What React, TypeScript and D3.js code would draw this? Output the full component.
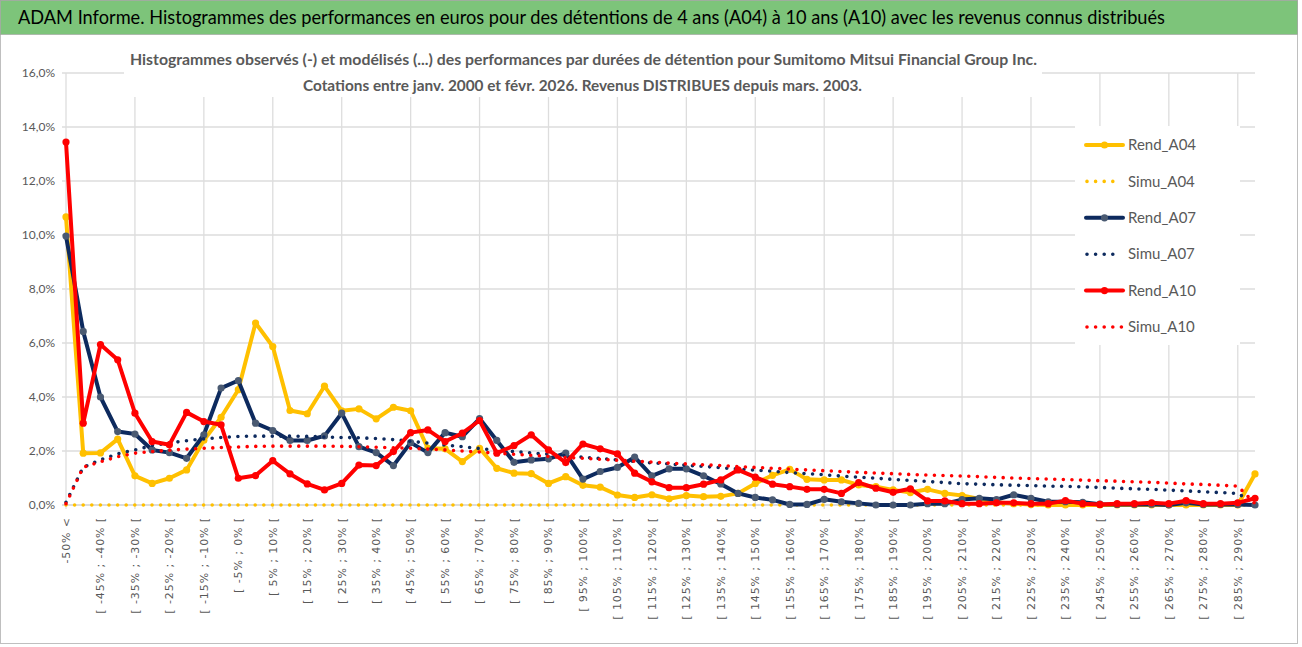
import * as d3 from 'd3'

// Performance bins (5% wide), only every other label is visible on the axis
const categories = [
  '-50% <',
  '[ -50% ; -45% [', '[ -45% ; -40% [', '[ -40% ; -35% [', '[ -35% ; -30% [', '[ -30% ; -25% [',
  '[ -25% ; -20% [', '[ -20% ; -15% [', '[ -15% ; -10% [', '[ -10% ; -5% [', '[ -5% ; 0% [',
  '[ 0% ; 5% [', '[ 5% ; 10% [', '[ 10% ; 15% [', '[ 15% ; 20% [', '[ 20% ; 25% [',
  '[ 25% ; 30% [', '[ 30% ; 35% [', '[ 35% ; 40% [', '[ 40% ; 45% [', '[ 45% ; 50% [',
  '[ 50% ; 55% [', '[ 55% ; 60% [', '[ 60% ; 65% [', '[ 65% ; 70% [', '[ 70% ; 75% [',
  '[ 75% ; 80% [', '[ 80% ; 85% [', '[ 85% ; 90% [', '[ 90% ; 95% [', '[ 95% ; 100% [',
  '[ 100% ; 105% [', '[ 105% ; 110% [', '[ 110% ; 115% [', '[ 115% ; 120% [', '[ 120% ; 125% [',
  '[ 125% ; 130% [', '[ 130% ; 135% [', '[ 135% ; 140% [', '[ 140% ; 145% [', '[ 145% ; 150% [',
  '[ 150% ; 155% [', '[ 155% ; 160% [', '[ 160% ; 165% [', '[ 165% ; 170% [', '[ 170% ; 175% [',
  '[ 175% ; 180% [', '[ 180% ; 185% [', '[ 185% ; 190% [', '[ 190% ; 195% [', '[ 195% ; 200% [',
  '[ 200% ; 205% [', '[ 205% ; 210% [', '[ 210% ; 215% [', '[ 215% ; 220% [', '[ 220% ; 225% [',
  '[ 225% ; 230% [', '[ 230% ; 235% [', '[ 235% ; 240% [', '[ 240% ; 245% [', '[ 245% ; 250% [',
  '[ 250% ; 255% [', '[ 255% ; 260% [', '[ 260% ; 265% [', '[ 265% ; 270% [', '[ 270% ; 275% [',
  '[ 275% ; 280% [', '[ 280% ; 285% [', '[ 285% ; 290% [', '290% >',
]

// values in %
const rendA04 = [
  10.67, 1.92, 1.93, 2.44, 1.08, 0.8, 0.99, 1.3, 2.4, 3.25,
  4.27, 6.74, 5.87, 3.5, 3.38, 4.4, 3.49, 3.56, 3.19, 3.62,
  3.49, 2.1, 2.08, 1.61, 2.1, 1.36, 1.18, 1.16, 0.8, 1.05,
  0.73, 0.66, 0.37, 0.28, 0.38, 0.23, 0.35, 0.31, 0.32, 0.43,
  0.8, 1.1, 1.32, 0.95, 0.93, 0.93, 0.74, 0.68, 0.56, 0.46,
  0.58, 0.43, 0.35, 0.22, 0.1, 0.05, 0.02, 0, 0, 0,
  0, 0, 0, 0, 0, 0, 0, 0, 0, 1.15,
]
const simuA04 = [
  0, 0, 0, 0, 0, 0, 0, 0, 0, 0, 0, 0, 0, 0, 0, 0, 0, 0, 0, 0,
  0, 0, 0, 0, 0, 0, 0, 0, 0, 0, 0, 0, 0, 0, 0, 0, 0, 0, 0, 0,
  0, 0, 0, 0, 0, 0, 0, 0, 0, 0, 0, 0, 0, 0, 0, 0, 0, 0, 0, 0,
  0, 0, 0, 0, 0, 0, 0, 0, 0, 0,
]
const rendA07 = [
  9.96, 6.43, 4.0, 2.72, 2.63, 2.04, 1.94, 1.73, 2.6, 4.33,
  4.61, 3.03, 2.76, 2.39, 2.39, 2.56, 3.4, 2.16, 1.94, 1.46,
  2.31, 1.94, 2.68, 2.53, 3.2, 2.39, 1.58, 1.67, 1.71, 1.92,
  0.96, 1.24, 1.39, 1.77, 1.08, 1.34, 1.34, 1.08, 0.78, 0.43,
  0.28, 0.19, 0.02, 0.02, 0.21, 0.12, 0.06, 0, 0, 0,
  0.05, 0.05, 0.2, 0.25, 0.2, 0.38, 0.25, 0.12, 0.12, 0.1,
  0.03, 0.02, 0.02, 0.03, 0, 0.08, 0.02, 0.02, 0.02, 0,
]
const simuA07 = [
  0.1, 1.4, 1.67, 1.9, 2.04, 2.2, 2.3, 2.38, 2.45, 2.5,
  2.54, 2.55, 2.55, 2.55, 2.54, 2.52, 2.5, 2.49, 2.46, 2.42,
  2.36, 2.29, 2.22, 2.16, 2.09, 2.03, 1.98, 1.93, 1.88, 1.83,
  1.77, 1.72, 1.67, 1.61, 1.56, 1.52, 1.47, 1.43, 1.38, 1.33,
  1.29, 1.25, 1.2, 1.16, 1.12, 1.07, 1.03, 0.99, 0.95, 0.91,
  0.87, 0.83, 0.79, 0.77, 0.75, 0.73, 0.72, 0.7, 0.69, 0.67,
  0.65, 0.62, 0.6, 0.58, 0.55, 0.52, 0.49, 0.46, 0.43, 0.05,
]
const rendA10 = [
  13.44, 3.03, 5.94, 5.38, 3.4, 2.35, 2.23, 3.43, 3.09, 2.97,
  0.99, 1.09, 1.64, 1.15, 0.78, 0.56, 0.8, 1.48, 1.46, 1.98,
  2.68, 2.78, 2.35, 2.66, 3.13, 1.92, 2.2, 2.6, 2.04, 1.57,
  2.26, 2.08, 1.89, 1.18, 0.86, 0.64, 0.64, 0.77, 0.93, 1.3,
  1.03, 0.77, 0.68, 0.58, 0.58, 0.43, 0.83, 0.62, 0.47, 0.6,
  0.15, 0.15, 0.05, 0.05, 0.08, 0.08, 0.05, 0.05, 0.16, 0.05,
  0.02, 0.05, 0.05, 0.08, 0.05, 0.16, 0.05, 0.05, 0.08, 0.25,
]
const simuA10 = [
  0.05, 1.4, 1.6, 1.79, 1.92, 1.98, 2.03, 2.07, 2.1, 2.13,
  2.15, 2.17, 2.18, 2.18, 2.18, 2.18, 2.17, 2.16, 2.14, 2.12,
  2.1, 2.07, 2.04, 2.0, 1.96, 1.92, 1.88, 1.84, 1.8, 1.76,
  1.73, 1.69, 1.66, 1.62, 1.59, 1.55, 1.52, 1.49, 1.46, 1.42,
  1.39, 1.36, 1.33, 1.3, 1.27, 1.24, 1.21, 1.18, 1.16, 1.13,
  1.11, 1.09, 1.07, 1.05, 1.02, 1.0, 0.98, 0.96, 0.94, 0.92,
  0.9, 0.88, 0.86, 0.84, 0.81, 0.78, 0.76, 0.73, 0.7, 0.05,
]

const yTicks = [0, 2, 4, 6, 8, 10, 12, 14, 16]

const YELLOW = '#FFC000'
const NAVY = '#0D2A5E'
const RED = '#FF0000'
const GRAY = '#595959'
const FONT = "Lato, 'Open Sans', sans-serif"

type Serie = { name: string; values: number[]; color: string; marker?: string; dotted: boolean }

// Excel draw order: last one ends on top
const series: Serie[] = [
  { name: 'Rend_A04', values: rendA04, color: YELLOW, marker: YELLOW, dotted: false },
  { name: 'Simu_A04', values: simuA04, color: YELLOW, dotted: true },
  { name: 'Rend_A07', values: rendA07, color: NAVY, marker: '#4A5A72', dotted: false },
  { name: 'Simu_A07', values: simuA07, color: NAVY, dotted: true },
  { name: 'Rend_A10', values: rendA10, color: RED, marker: RED, dotted: false },
  { name: 'Simu_A10', values: simuA10, color: RED, dotted: true },
]

export default function App() {
  const width = 1302
  const height = 647

  const x = d3.scalePoint<string>().domain(categories).range([66, 1255])
  const y = d3.scaleLinear().domain([0, 16]).range([505, 73])

  const line = d3
    .line<number>()
    .x((_, i) => x(categories[i])!)
    .y((d) => y(d))

  const gridX = categories.filter((_, i) => i % 4 === 0)
  const shownLabels = categories.filter((_, i) => i % 2 === 0)

  return (
    <div style={{ position: 'absolute', left: 0, top: 0 }}>
      <svg width={width} height={height} style={{ display: 'block', background: '#fff' }}>
        {/* outer frame */}
        <rect x={0.5} y={0.5} width={1297} height={643} fill="#fff" stroke="#BFBFBF" />
        {/* green banner */}
        <rect x={0.5} y={0.5} width={1297} height={34} fill="#7DC47A" stroke="#A0A0A0" strokeWidth={0.6} />
        <text x={18} y={24} fontFamily={FONT} fontSize={19} fill="#000" textLength={1147} lengthAdjust="spacingAndGlyphs">
          ADAM Informe. Histogrammes des performances en euros pour des détentions de 4 ans (A04) à 10 ans (A10) avec les revenus connus distribués
        </text>

        {/* gridlines */}
        {yTicks.map((t) => (
          <line key={'h' + t} x1={62} x2={1255} y1={y(t)} y2={y(t)} stroke={t === 0 ? '#D0D0D0' : '#DDDDDD'} strokeWidth={1.3} />
        ))}
        {gridX.map((c) => (
          <line key={'v' + c} x1={x(c)} x2={x(c)} y1={y(16)} y2={y(0) + 4} stroke="#DDDDDD" strokeWidth={1.3} />
        ))}

        {/* y tick labels */}
        {yTicks.map((t) => (
          <text key={'yl' + t} x={55} y={y(t)} dy="0.35em" textAnchor="end" fontFamily={FONT} fontSize={12} fill={GRAY}>
            {t.toFixed(1).replace('.', ',')}%
          </text>
        ))}

        {/* x tick labels */}
        {shownLabels.map((c) => (
          <text
            key={'xl' + c}
            transform={`translate(${x(c)},517) rotate(-90)`}
            textAnchor="end"
            dy="0.35em"
            fontFamily="'DejaVu Sans', sans-serif"
            fontSize={11}
            letterSpacing={0.9}
            fill={GRAY}
          >
            {c}
          </text>
        ))}

        {/* chart title box */}
        <rect x={124} y={44} width={918} height={53} fill="#fff" />
        <text x={130} y={65} fontFamily={FONT} fontWeight={700} fontSize={15} fill={GRAY} textLength={907} lengthAdjust="spacingAndGlyphs">
          Histogrammes observés (-) et modélisés (...) des performances par durées de détention pour Sumitomo Mitsui Financial Group Inc.
        </text>
        <text x={303} y={91} fontFamily={FONT} fontWeight={700} fontSize={15} fill={GRAY} textLength={559} lengthAdjust="spacingAndGlyphs">
          Cotations entre janv. 2000 et févr. 2026. Revenus DISTRIBUES depuis mars. 2003.
        </text>

        {/* series */}
        {series.map((s) => (
          <g key={s.name}>
            <path
              d={line(s.values) ?? ''}
              fill="none"
              stroke={s.color}
              strokeWidth={s.dotted ? 3.6 : 4}
              strokeLinejoin="round"
              strokeLinecap="round"
              strokeDasharray={s.dotted ? '0 8.6' : undefined}
            />
            {!s.dotted &&
              s.values.map((v, i) => (
                <circle key={i} cx={x(categories[i])} cy={y(v)} r={3.6} fill={s.marker} />
              ))}
          </g>
        ))}

        {/* legend */}
        <rect x={1075} y={126} width={165} height={219} fill="#fff" />
        {series.map((s, i) => {
          const ly = 145 + i * 36.4
          return (
            <g key={'lg' + s.name}>
              <line
                x1={s.dotted ? 1087 : 1086}
                x2={s.dotted ? (s.name === 'Simu_A10' ? 1123 : 1116) : 1123}
                y1={ly}
                y2={ly}
                stroke={s.color}
                strokeWidth={s.dotted ? 3.6 : 4}
                strokeLinecap="round"
                strokeDasharray={s.dotted ? '0 8.6' : undefined}
              />
              {!s.dotted && <circle cx={1104.5} cy={ly} r={3.6} fill={s.marker} />}
              <text x={1128} y={ly} dy="0.35em" fontFamily={FONT} fontSize={15} fill={GRAY}>
                {s.name}
              </text>
            </g>
          )
        })}
      </svg>
    </div>
  )
}
